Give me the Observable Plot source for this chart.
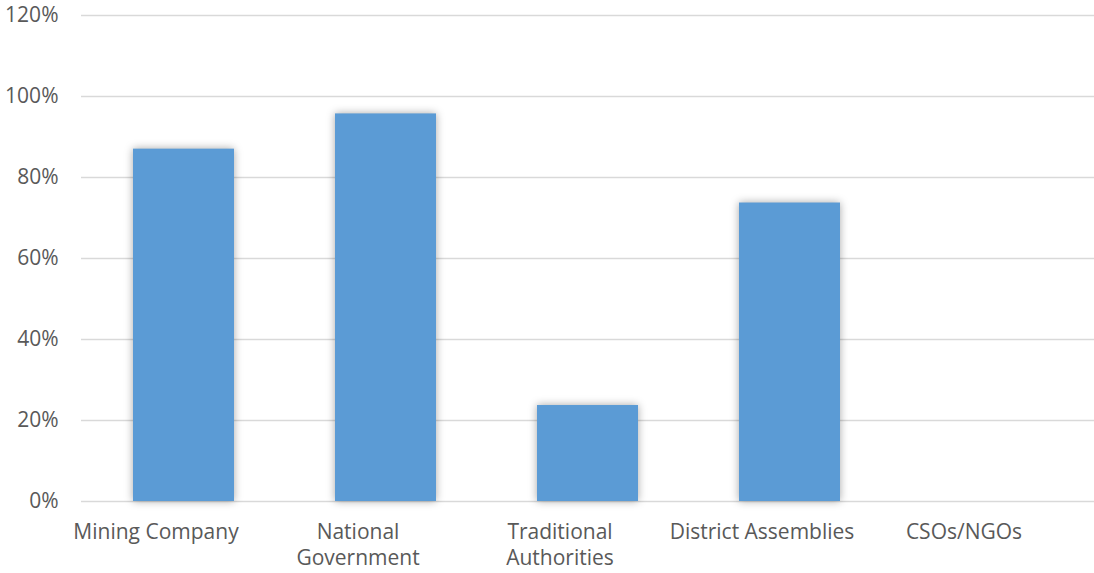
<!DOCTYPE html>
<html>
<head>
<meta charset="utf-8">
<script src="https://cdn.jsdelivr.net/npm/d3@7"></script>
<script src="https://cdn.jsdelivr.net/npm/@observablehq/plot@0.6"></script>
<style>
  html, body { margin: 0; padding: 0; background: #fff; }
  #chart svg { display: block; }
  .bars rect { filter: drop-shadow(0 0 4px rgba(0, 0, 0, 0.35)); }
</style>
</head>
<body>
<div id="chart"></div>
<script>
// Share of respondents naming each actor
const categories = ["Mining Company", "National Government", "Traditional Authorities", "District Assemblies", "CSOs/NGOs"];
const shares = [0.87, 0.957, 0.237, 0.737, 0];
const tickLabels = ["Mining Company", "National\nGovernment", "Traditional\nAuthorities", "District Assemblies", "CSOs/NGOs"];
const yTicks = [0, 0.2, 0.4, 0.6, 0.8, 1.0, 1.2];

const data = categories.map((c, i) => ({category: c, share: shares[i]}));
const labelOf = new Map(categories.map((c, i) => [c, tickLabels[i]]));

const chart = Plot.plot({
  width: 1094,
  height: 573,
  marginLeft: 81,
  marginRight: 0,
  marginTop: 15,
  marginBottom: 72,
  style: {fontFamily: "'Open Sans', Lato, sans-serif", fontSize: "21px", color: "#595959", background: "#fff"},
  x: {domain: categories, paddingInner: 0.5, paddingOuter: 0.25},
  y: {domain: [0, 1.2]},
  marks: [
    Plot.ruleY(yTicks, {stroke: "#d9d9d9", strokeWidth: 1.5}),
    Plot.barY(data, {x: "category", y: "share", fill: "#5b9bd5", className: "bars"}),
    Plot.axisY({
      ticks: yTicks,
      tickFormat: d3.format(".0%"),
      tickSize: 0,
      tickPadding: 23,
      fill: "#595959",
      label: null
    }),
    Plot.axisX({
      tickFormat: d => labelOf.get(d),
      tickSize: 0,
      tickPadding: 19,
      dx: -28,
      lineHeight: 1.25,
      fill: "#595959",
      label: null
    })
  ]
});

document.getElementById("chart").appendChild(chart);
</script>
</body>
</html>
